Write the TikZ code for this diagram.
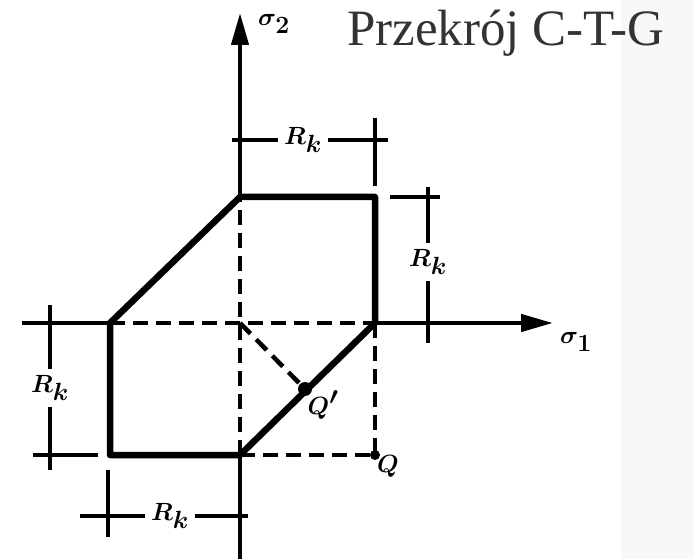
\documentclass[tikz,border=0pt]{standalone}
\usepackage{fontspec}
\usepackage{amsmath}
\usepackage{bm}
\usetikzlibrary{arrows.meta}
\newfontfamily\titlefont{Liberation Serif}
\definecolor{stripgray}{HTML}{F8F8F8}
\definecolor{titlegray}{HTML}{333333}

\begin{document}
\begin{tikzpicture}[
  x=1pt, y=-1pt,
  >={Triangle[length=32pt,width=17pt]},
  edge/.style={line width=6.5pt, line cap=round, line join=round},
  axis/.style={line width=4.5pt},
  dimline/.style={line width=4pt},
  hidden/.style={line width=4.5pt, dash pattern=on 15pt off 8pt},
  rk/.style={font=\fontsize{33}{33}\selectfont, inner sep=6pt},
  lbl/.style={font=\fontsize{33}{33}\selectfont, inner sep=1pt}
]
  \useasboundingbox (0,0) rectangle (694,559);
  \fill[stripgray] (621,0) rectangle (694,559);

  % corners of the section
  \coordinate (O) at (240,323);
  \coordinate (A) at (240,197);
  \coordinate (B) at (375,197);
  \coordinate (C) at (375,323);
  \coordinate (D) at (240,455);
  \coordinate (E) at (110,455);
  \coordinate (F) at (110,323);
  \coordinate (Q) at (375,455);
  \coordinate (Qp) at (305,389);

  % axes
  \coordinate (xs) at (22,323);
  \coordinate (xe) at (553,323);
  \coordinate (ys) at (240,559);
  \coordinate (ye) at (240,13);
  \draw[axis] (xs) -- (F);
  \draw[hidden] (F) -- (C);
  \draw[axis,->] (C) -- (xe);
  \draw[axis] (ys) -- (D);
  \draw[hidden] (D) -- (A);
  \draw[axis,->] (A) -- (ye);
  \node[lbl] (s2) at (274,24) {$\bm{\sigma_2}$};
  \node[lbl] (s1) at (576,342) {$\bm{\sigma_1}$};

  % section outline
  \draw[edge] (A) -- (B) -- (C) -- (D) -- (E) -- (F) -- cycle;

  % point Q and its projection
  \draw[hidden] (O) -- (Qp);
  \draw[hidden] (C) -- (Q);
  \draw[hidden] (D) -- (Q);
  \fill (Qp) circle (7pt);
  \fill (Q) circle (5pt);
  \node[lbl] (qp) at (323,405) {$\bm{Q'}$};
  \node[lbl] (q) at (388,466) {$\bm{Q}$};

  % dimensions
  \coordinate (t1) at (232,140);
  \coordinate (t2) at (388,140);
  \coordinate (te1) at (375,118);
  \coordinate (te2) at (375,186);
  \node[rk] (rk1) at (303,140) {$\bm{R_k}$};
  \draw[dimline] (t1) -- (rk1);
  \draw[dimline] (rk1) -- (t2);
  \draw[dimline] (te1) -- (te2);

  \coordinate (r1) at (428,187);
  \coordinate (r2) at (428,343);
  \coordinate (re1) at (390,197);
  \coordinate (re2) at (440,197);
  \node[rk] (rk2) at (428,262) {$\bm{R_k}$};
  \draw[dimline] (r1) -- (rk2);
  \draw[dimline] (rk2) -- (r2);
  \draw[dimline] (re1) -- (re2);

  \coordinate (l1) at (50,305);
  \coordinate (l2) at (50,470);
  \coordinate (le1) at (33,455);
  \coordinate (le2) at (98,455);
  \node[rk] (rk3) at (50,388) {$\bm{R_k}$};
  \draw[dimline] (l1) -- (rk3);
  \draw[dimline] (rk3) -- (l2);
  \draw[dimline] (le1) -- (le2);

  \coordinate (b1) at (80,516);
  \coordinate (b2) at (248,516);
  \coordinate (be1) at (108,470);
  \coordinate (be2) at (108,537);
  \node[rk] (rk4) at (170,516) {$\bm{R_k}$};
  \draw[dimline] (b1) -- (rk4);
  \draw[dimline] (rk4) -- (b2);
  \draw[dimline] (be1) -- (be2);

  \node[anchor=base west, inner sep=0pt, text=titlegray,
    font=\titlefont\fontsize{51}{51}\selectfont] (title) at (347,46) {Przekrój C-T-G};
\end{tikzpicture}
\end{document}
